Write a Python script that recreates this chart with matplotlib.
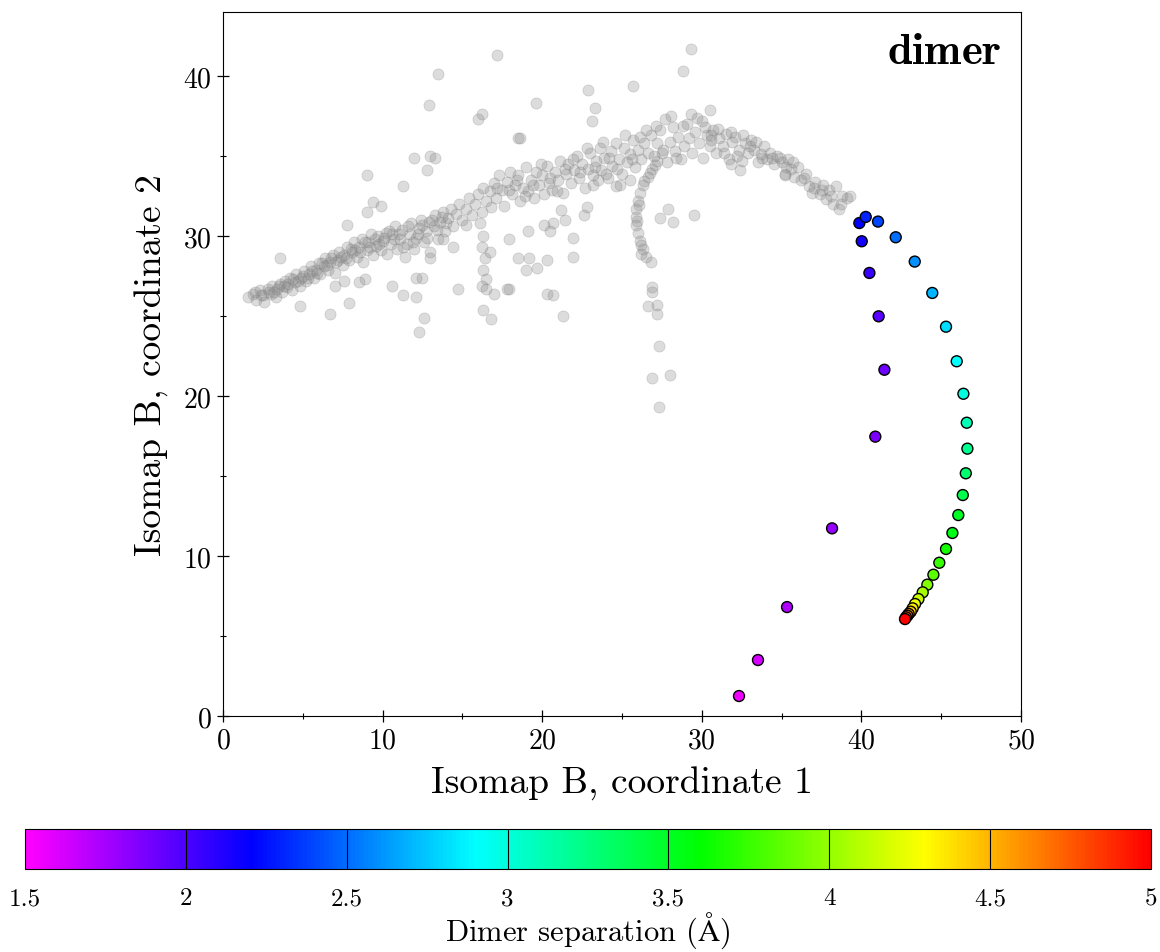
import numpy as np
import matplotlib
matplotlib.use("Agg")
import matplotlib.pyplot as plt
from matplotlib.colors import LinearSegmentedColormap, Normalize

plt.rcParams['font.family'] = 'serif'
plt.rcParams['font.serif'] = ['cmr10']
plt.rcParams['mathtext.fontset'] = 'cm'
plt.rcParams['axes.formatter.use_mathtext'] = True

# background cloud (all structures)
gray_pts = [
    (1.6,26.2),(1.9,26.4),(2.1,26.0),(2.3,26.6),(2.5,26.3),(2.6,25.9),(2.8,26.7),(3.0,26.4),(3.1,26.9),(3.3,26.2),
    (3.4,26.7),(3.6,27.0),(3.7,26.5),(3.9,27.2),(4.0,26.8),
    (4.2,27.4),(4.3,26.6),(4.5,27.1),(4.6,27.6),(4.8,26.9),(4.9,27.4),(5.1,27.8),(5.2,27.2),(5.4,27.6),(5.5,28.1),
    (5.7,27.4),(5.8,27.9),(6.0,28.3),(6.1,27.6),(6.3,28.1),(6.4,28.6),(6.6,27.9),(6.7,28.4),(6.9,28.8),(7.0,27.7),
    (7.2,28.5),(7.3,29.0),(7.5,28.2),(7.6,28.8),(7.8,29.3),(7.9,28.5),(8.1,29.0),(8.2,29.6),(8.4,28.7),(8.5,29.3),
    (8.7,29.8),(8.8,28.4),(9.0,29.1),(9.1,29.6),(9.3,30.1),(9.4,28.8),(9.6,29.4),(9.7,30.0),(9.9,29.1),(10.0,29.7),
    (10.2,30.2),(10.3,28.9),(10.5,29.5),(10.6,30.1),(10.8,30.6),(10.9,29.2),(11.1,29.8),(11.2,30.4),(11.4,28.7),(11.5,29.5),
    (11.7,30.1),(11.8,30.8),(12.0,29.2),(12.1,29.9),(12.3,30.5),(12.4,31.0),(12.6,29.6),(12.7,30.3),(12.9,30.9),(13.0,29.0),
    (13.2,30.6),(13.3,31.3),(13.5,29.8),(13.6,30.9),(13.8,31.5),(13.9,30.3),(14.1,31.1),(14.3,31.7),(14.4,30.6),(14.6,31.4),
    (14.8,32.0),(15.0,31.0),(15.2,31.7),(15.4,32.4),(15.6,31.3),(15.8,32.0),(16.0,32.6),(16.2,31.5),(16.3,33.0),(16.5,32.2),
    (16.1,30.8),(16.3,30.0),(16.2,29.3),(16.4,28.6),(16.3,27.9),(16.5,27.3),(16.2,26.9),
    (16.7,32.8),(16.8,31.8),(17.0,33.3),(17.1,32.4),(17.3,33.8),(17.5,32.9),(17.6,31.9),(17.8,33.4),(18.0,34.0),(18.1,32.6),
    (18.3,33.2),(18.5,33.8),(18.6,32.2),(18.8,33.0),(19.0,34.3),(19.1,32.8),(19.3,33.5),(19.5,32.4),(19.6,34.0),(19.8,33.2),
    (20.0,33.8),(20.1,32.6),(20.3,34.4),(20.4,33.3),(20.6,32.9),(20.8,34.0),(21.0,33.5),(21.1,34.7),(21.3,32.7),(21.5,33.9),
    (21.6,34.5),(21.8,33.3),(22.0,34.1),(22.2,35.0),(22.3,33.6),(22.5,34.5),(22.7,33.0),(22.9,34.2),(23.0,35.2),(23.2,33.8),
    (23.4,34.7),(23.6,35.5),(23.7,34.1),(23.9,34.9),(24.1,33.6),(24.3,35.3),(24.4,34.4),(24.6,35.8),(24.8,34.8),(25.0,33.9),
    (25.1,35.5),(25.3,34.6),(25.5,35.1),(25.7,36.0),(25.8,34.3),(26.0,35.4),(26.2,34.8),(26.4,35.8),(26.6,35.2),(26.8,36.3),
    (27.5,35.2),(27.2,34.7),(26.9,34.2),(26.6,33.7),(26.3,33.2),(26.1,32.7),(26.0,32.2),(25.9,31.7),(25.9,31.2),(25.9,30.7),
    (26.0,30.2),(26.1,29.7),(26.3,29.2),(26.5,28.7),(26.8,28.4),(26.2,28.9),
    (26.05,31.95),(25.95,30.95),(26.4,33.45),(26.2,29.45),(27.05,34.45),(26.75,33.95),
    (27.0,35.0),(27.2,35.8),(27.4,36.6),(27.6,35.4),(27.8,34.6),(28.0,35.9),(28.2,36.8),(28.3,35.3),(28.5,36.2),(28.7,34.8),
    (28.9,35.6),(29.1,37.0),(29.2,36.1),(29.4,35.2),(29.6,36.5),(29.8,35.8),(30.0,37.2),(30.1,34.9),(30.3,36.3),(30.5,35.6),
    (30.7,36.6),(30.9,35.2),(31.1,36.1),(31.3,35.6),(31.5,36.4),(31.7,34.8),(31.9,35.9),(32.1,36.2),(32.3,35.4),(32.5,34.7),
    (32.7,35.8),(32.9,35.2),(33.1,36.0),(33.3,35.4),(33.5,34.6),(33.7,35.1),(33.9,35.6),(34.1,34.8),
    (34.3,35.2),(34.5,34.5),(34.7,35.0),(35.0,34.6),(35.2,33.9),(35.4,34.8),(35.6,34.2),(35.8,33.7),(36.0,34.3),(36.2,33.5),
    (36.5,33.9),(36.7,33.1),(36.9,32.7),(37.1,33.4),(37.4,32.6),(37.6,33.2),(37.8,32.3),(38.0,32.9),(38.2,32.0),(38.4,33.1),
    (38.6,31.7),(38.8,32.5),(39.1,32.4),(39.3,32.5),
    # second pass over the dense band
    (2.0,26.5),(2.4,26.3),(2.9,26.5),(3.2,26.5),(3.5,26.9),(3.8,26.9),(4.1,27.0),(4.4,27.3),(4.7,27.2),(5.0,27.5),
    (5.3,27.4),(5.6,27.8),(5.9,27.7),(6.2,28.3),(6.5,28.2),(6.8,28.6),(7.1,28.4),(7.4,28.7),(7.7,28.6),(8.0,29.2),
    (8.3,29.1),(8.6,29.0),(8.9,29.6),(9.2,29.3),(9.5,29.8),(9.8,29.5),(10.1,29.9),(10.4,30.3),(10.7,29.8),(11.0,30.1),
    (11.3,29.3),(11.6,30.6),(11.9,29.6),(12.2,30.1),(12.5,30.7),(12.8,29.9),(13.1,31.0),(13.4,30.4),(13.7,31.2),(14.0,30.8),
    (17.2,33.0),(17.9,32.9),(18.4,33.5),(18.9,32.5),(19.4,33.2),(19.9,34.5),(20.5,33.6),(20.9,32.8),(21.4,34.2),(21.9,34.8),
    (22.4,34.0),(22.8,35.5),(23.3,34.3),(23.8,35.9),(24.2,34.9),(24.7,34.2),(25.2,36.3),(25.6,34.8),(26.1,36.2),(26.5,36.6),
    (27.1,36.9),(27.7,37.3),(28.1,37.5),(28.4,34.9),(28.8,36.9),(29.3,37.6),(29.7,37.4),(30.2,36.8),(30.6,36.0),(31.0,36.7),
    (31.4,35.2),(31.8,36.5),(32.2,35.0),(32.6,36.3),(33.0,35.6),(33.4,35.9),(33.8,34.9),(34.4,34.9),(34.9,34.9),(35.3,34.3),
    (35.7,34.6),(36.4,33.6),(37.0,33.0),(37.5,32.9),(38.1,32.5),(38.7,32.0),(25.5,33.5),(24.9,33.2),(24.0,33.9),(23.5,33.5),
    # scattered points
    (13.5,40.1),(12.9,38.2),(16.2,37.6),(16.0,37.3),(18.5,36.1),(12.0,34.9),(13.0,35.0),(13.3,34.9),(9.0,33.8),(12.8,34.1),
    (11.3,33.1),(9.4,32.1),(9.9,31.9),(9.0,31.5),(7.8,30.7),(3.6,28.6),(4.8,25.6),(6.7,25.1),(7.9,25.8),(11.3,26.3),
    (12.1,26.2),(12.3,24.0),(12.6,24.9),(14.7,26.7),(10.6,26.9),(17.9,26.7),(16.3,25.4),(16.8,24.8),(17.9,29.8),(18.5,28.6),
    (15.2,30.7),(14.4,29.3),(13.8,29.8),(13.0,28.6),(12.5,27.4),(12.1,27.4),(8.9,27.3),(8.5,27.1),(7.0,26.9),(7.6,27.2),
    (29.3,41.7),(28.8,40.3),(17.2,41.3),(25.7,39.4),(22.9,39.1),(23.3,38.0),(19.6,38.3),(23.1,37.2),(30.5,37.9),(18.6,36.1),
    (29.5,31.3),(28.2,30.9),(27.9,31.7),(27.4,31.1),(24.6,33.1),(23.2,33.2),(19.2,28.6),(19.0,27.9),(19.7,28.0),(20.3,28.5),
    (21.9,28.7),(21.9,29.9),(20.5,30.3),(19.1,30.3),(20.1,30.7),(20.7,30.8),(21.4,31.0),(21.2,31.6),(22.6,31.3),(22.8,31.8),
    (20.3,26.4),(20.7,26.3),(21.3,25.0),(17.8,26.7),(17.0,26.4),(16.5,26.7),(16.7,29.0),
    (26.9,26.8),(26.9,26.5),(26.6,25.6),(27.2,25.7),(27.2,25.1),(27.3,23.1),(26.9,21.1),(28.0,21.3),(27.3,19.3),
    (32.4,34.1),(31.8,34.5),(35.2,33.8),(30.6,36.3),
]
gray_x = [p[0] for p in gray_pts]
gray_y = [p[1] for p in gray_pts]

# dimer path, coloured by separation (angstrom)
dimer_x = [32.33, 33.52, 35.34, 38.16, 40.87, 41.44, 41.08, 40.50, 40.02, 39.87,
           40.27, 41.04, 42.15, 43.34, 44.44, 45.30, 45.97, 46.39, 46.60, 46.64,
           46.54, 46.35, 46.07, 45.70, 45.30, 44.88, 44.51, 44.13, 43.84, 43.57,
           43.36, 43.21, 43.09, 42.96, 42.88, 42.79, 42.73]
dimer_y = [1.25, 3.50, 6.81, 11.73, 17.46, 21.64, 24.98, 27.69, 29.67, 30.81,
           31.19, 30.90, 29.92, 28.40, 26.44, 24.33, 22.17, 20.14, 18.33, 16.71,
           15.17, 13.81, 12.56, 11.44, 10.44, 9.58, 8.83, 8.21, 7.73, 7.31,
           7.00, 6.73, 6.52, 6.38, 6.27, 6.17, 6.06]
dimer_d = [1.55, 1.62, 1.72, 1.80, 1.86, 1.91, 1.96, 2.05, 2.15, 2.20,
           2.30, 2.40, 2.50, 2.60, 2.70, 2.80, 2.90, 3.00, 3.10, 3.20,
           3.30, 3.40, 3.50, 3.55, 3.65, 3.75, 3.85, 3.95, 4.05, 4.15,
           4.25, 4.35, 4.45, 4.55, 4.65, 4.75, 5.00]

cb_ticks = [1.5, 2, 2.5, 3, 3.5, 4, 4.5, 5]
cb_labels = ['1.5', '2', '2.5', '3', '3.5', '4', '4.5', '5']

cmap = LinearSegmentedColormap.from_list(
    'sep', ['#ff00ff', '#0000ff', '#00ffff', '#00ff00', '#ffff00', '#ff0000'])
norm = Normalize(vmin=1.5, vmax=5)

fig = plt.figure(figsize=(11.6, 9.53), dpi=100)
ax = fig.add_axes([0.1922, 0.2476, 0.688, 0.7388])

ax.scatter(gray_x, gray_y, s=64, c=[(0.55, 0.55, 0.55)], alpha=0.3,
           edgecolors=[(0.45, 0.45, 0.45)], linewidths=0.5, zorder=1)
sc = ax.scatter(dimer_x, dimer_y, s=62, c=dimer_d, cmap=cmap, norm=norm,
                edgecolors='black', linewidths=1.0, zorder=3)

ax.set_xlim(0, 50)
ax.set_ylim(0, 44)
ax.set_xticks([0, 10, 20, 30, 40, 50])
ax.set_yticks([0, 10, 20, 30, 40])
ax.set_xticks([5, 15, 25, 35, 45], minor=True)
ax.set_yticks([5, 15, 25, 35], minor=True)
ax.tick_params(which='major', direction='inout', length=9, width=0.9, labelsize=20,
               top=False, right=False)
ax.tick_params(which='minor', direction='inout', length=5, width=0.8,
               top=False, right=False)
ax.set_xlabel('Isomap B, coordinate 1', fontsize=27, labelpad=9)
ax.set_ylabel('Isomap B, coordinate 2', fontsize=27, labelpad=10)
ax.text(0.975, 0.972, r'$\mathbf{dimer}$', transform=ax.transAxes,
        ha='right', va='top', fontsize=32)

cax = fig.add_axes([0.0216, 0.0871, 0.9706, 0.042])
cb = fig.colorbar(sc, cax=cax, orientation='horizontal')
cb.set_ticks(cb_ticks)
cb.set_ticklabels(cb_labels)
cax.tick_params(length=0, labelsize=18, pad=13)
for t in cb_ticks[1:-1]:
    cax.axvline(t, color='black', linewidth=0.8)
cb.set_label(r'Dimer separation ($\mathrm{\AA}$)', fontsize=22, labelpad=0)

fig.savefig('out.png', dpi=100)
